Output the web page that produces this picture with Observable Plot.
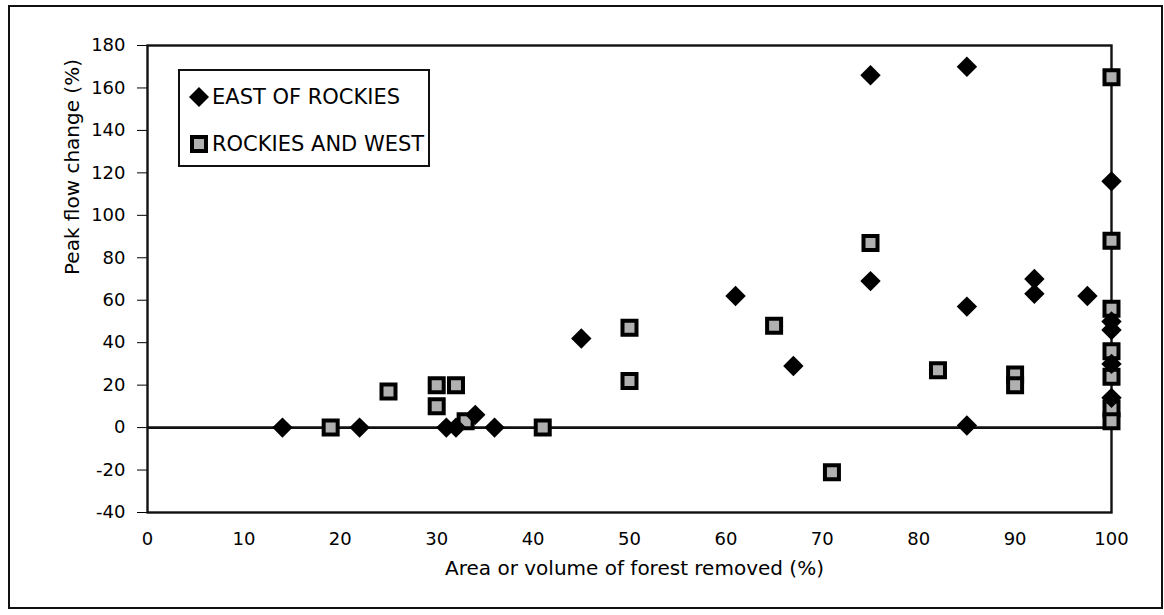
<!DOCTYPE html>
<html>
<head>
<meta charset="utf-8">
<script src="https://cdn.jsdelivr.net/npm/d3@7"></script>
<script src="https://cdn.jsdelivr.net/npm/@observablehq/plot@0.6"></script>
<style>
  html, body { margin: 0; padding: 0; background: #fff; }
  #wrap { position: relative; width: 1164px; height: 615px; overflow: hidden; }
  #border { position: absolute; left: 8px; top: 5px; width: 1151px; height: 600px; border: 2px solid #111; pointer-events: none; }
  #legend { position: absolute; left: 178px; top: 69px; width: 248px; height: 94px; border: 2.5px solid #111; background: #fff;
            font-family: "DejaVu Sans", sans-serif; font-size: 21px; color: #000; }
  .item { position: absolute; left: 8px; display: flex; align-items: center; white-space: nowrap; }
  .item svg { margin-right: 2px; }
</style>
</head>
<body>
<div id="wrap">
  <div id="chart"></div>
  <div id="border"></div>
  <div id="legend"></div>
</div>
<script>
// Data
const seriesNames = ["EAST OF ROCKIES", "ROCKIES AND WEST"];
const eastX = [14, 22, 31, 32, 34, 36, 45, 61, 67, 75, 75, 85, 85, 85, 92, 92, 97.5, 100, 100, 100, 100, 100];
const eastY = [0, 0, 0, 0, 6, 0, 42, 62, 29, 166, 69, 170, 57, 1, 70, 63, 62, 116, 50, 46, 30, 14];
const westX = [19, 25, 30, 30, 32, 33, 41, 50, 50, 65, 71, 75, 82, 90, 90, 100, 100, 100, 100, 100, 100, 100];
const westY = [0, 17, 20, 10, 20, 3, 0, 47, 22, 48, -21, 87, 27, 25, 20, 165, 88, 56, 36, 24, 9, 3];
const xTicks = [0, 10, 20, 30, 40, 50, 60, 70, 80, 90, 100];
const yTicks = [-40, -20, 0, 20, 40, 60, 80, 100, 120, 140, 160, 180];
const xTitle = "Area or volume of forest removed (%)";
const yTitle = "Peak flow change (%)";

const east = eastX.map((x, i) => ({x, y: eastY[i]}));
const west = westX.map((x, i) => ({x, y: westY[i]}));

const chart = Plot.plot({
  width: 1164,
  height: 615,
  marginLeft: 147,
  marginRight: 53,
  marginTop: 45,
  marginBottom: 103,
  style: {fontFamily: "DejaVu Sans, sans-serif", fontSize: "18px", background: "transparent", color: "#000"},
  x: {domain: [0, 100], ticks: xTicks, tickSize: 0, tickPadding: 20, label: null, tickFormat: d => String(d)},
  y: {domain: [-40, 180], ticks: yTicks, tickSize: 10, tickPadding: 12, label: null, tickFormat: d => String(d)},
  marks: [
    Plot.frame({stroke: "#111", strokeWidth: 2.4}),
    Plot.ruleY([0], {stroke: "#111", strokeWidth: 2.8}),
    Plot.dot(west, {x: "x", y: "y", symbol: "square", r: 7.9, fill: "#b0b0b0", stroke: "#000", strokeWidth: 4}),
    Plot.dot(east, {x: "x", y: "y", symbol: "diamond2", r: 9.2, fill: "#000", stroke: "none"}),
    Plot.text([yTitle], {frameAnchor: "left", dx: -75, dy: -4, rotate: -90, fontSize: 20, fill: "#000"}),
    Plot.text([xTitle], {frameAnchor: "bottom", dx: 5, dy: 62, fontSize: 20, fill: "#000"})
  ]
});
document.getElementById("chart").appendChild(chart);

// Legend
const legend = document.getElementById("legend");
const sym = [
  '<svg width="22" height="22" viewBox="-11 -11 22 22"><path d="M0,-10L10,0L0,10L-10,0Z" fill="#000"/></svg>',
  '<svg width="22" height="22" viewBox="-11 -11 22 22"><rect x="-7" y="-7" width="14" height="14" fill="#b0b0b0" stroke="#000" stroke-width="4"/></svg>'
];
const tops = [25, 72];
seriesNames.forEach((name, i) => {
  const d = document.createElement("div");
  d.className = "item";
  d.style.top = (tops[i] - 11) + "px";
  d.innerHTML = sym[i] + "<span>" + name + "</span>";
  legend.appendChild(d);
});
</script>
</body>
</html>
